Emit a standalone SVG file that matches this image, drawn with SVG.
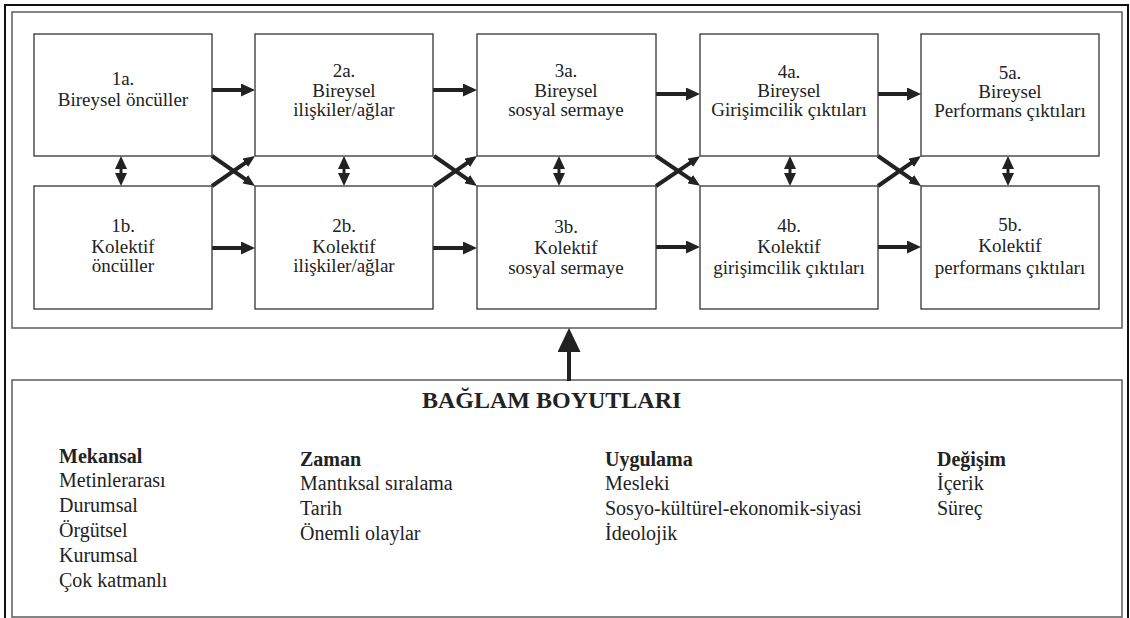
<svg xmlns="http://www.w3.org/2000/svg" width="1130" height="618" viewBox="0 0 1130 618">
  <style>
    .frame { fill: none; stroke: #111; stroke-width: 2; }
    .panel { fill: none; stroke: #666; stroke-width: 1.6; }
    .box { fill: #fff; stroke: #333; stroke-width: 1.3; }
    text { font-family: 'Liberation Serif', 'DejaVu Serif', serif; fill: #222; }
    .lbl { font-size: 19px; text-anchor: middle; }
    .ctx { font-size: 20px; }
    .hd { font-weight: bold; }
    .title { font-size: 24px; font-weight: bold; }
    .flow { stroke: #222; stroke-width: 4; fill: none; }
    .cross { stroke: #222; stroke-width: 4; fill: none; }
    .link { stroke: #222; stroke-width: 3; fill: none; }
    .up { stroke: #222; stroke-width: 4; fill: none; }
  </style>
  <defs>
    <marker id="ah" viewBox="0 0 14 13" markerWidth="14" markerHeight="13" refX="1" refY="6.5" orient="auto" markerUnits="userSpaceOnUse">
      <path d="M0,0 L14,6.5 L0,13 z" fill="#222"/>
    </marker>
    <marker id="ahs" viewBox="0 0 12 10" markerWidth="12" markerHeight="10" refX="1" refY="5" orient="auto" markerUnits="userSpaceOnUse">
      <path d="M0,0 L12,5 L0,10 z" fill="#222"/>
    </marker>
    <marker id="dh" viewBox="0 0 13 12" markerWidth="13" markerHeight="12" refX="1" refY="6" orient="auto-start-reverse" markerUnits="userSpaceOnUse">
      <path d="M0,0 L13,6 L0,12 z" fill="#222"/>
    </marker>
    <marker id="big" viewBox="0 0 24 23" markerWidth="24" markerHeight="23" refX="1" refY="11.5" orient="auto" markerUnits="userSpaceOnUse">
      <path d="M0,0 L24,11.5 L0,23 z" fill="#222"/>
    </marker>
  </defs>

  <rect width="1130" height="618" fill="#fff"/>

  <!-- outer frame and the two panels -->
  <rect class="frame" x="5" y="5" width="1123" height="620"/>
  <rect class="panel" x="12" y="12" width="1110" height="316"/>
  <rect class="panel" x="12" y="380" width="1110" height="237"/>

  <!-- connectors -->
  <g id="connectors">
    <!-- horizontal flows, individual row -->
    <line class="flow" x1="211" y1="90" x2="242" y2="90" marker-end="url(#ah)"/>
    <line class="flow" x1="433" y1="90" x2="464" y2="90" marker-end="url(#ah)"/>
    <line class="flow" x1="655" y1="94" x2="687" y2="94" marker-end="url(#ah)"/>
    <line class="flow" x1="877" y1="94" x2="908" y2="94" marker-end="url(#ah)"/>
    <!-- horizontal flows, collective row -->
    <line class="flow" x1="211" y1="248" x2="242" y2="248" marker-end="url(#ah)"/>
    <line class="flow" x1="433" y1="248" x2="464" y2="248" marker-end="url(#ah)"/>
    <line class="flow" x1="655" y1="247" x2="687" y2="247" marker-end="url(#ah)"/>
    <line class="flow" x1="877" y1="247" x2="908" y2="247" marker-end="url(#ah)"/>
    <!-- diagonal crossings between rows -->
    <line class="cross" x1="212" y1="156" x2="246" y2="179.7" marker-end="url(#ahs)"/>
    <line class="cross" x1="212" y1="186" x2="246" y2="162.3" marker-end="url(#ahs)"/>
    <line class="cross" x1="434" y1="156" x2="468" y2="179.7" marker-end="url(#ahs)"/>
    <line class="cross" x1="434" y1="186" x2="468" y2="162.3" marker-end="url(#ahs)"/>
    <line class="cross" x1="656" y1="156" x2="691" y2="179.7" marker-end="url(#ahs)"/>
    <line class="cross" x1="656" y1="186" x2="691" y2="162.3" marker-end="url(#ahs)"/>
    <line class="cross" x1="878" y1="156" x2="912" y2="179.7" marker-end="url(#ahs)"/>
    <line class="cross" x1="878" y1="186" x2="912" y2="162.3" marker-end="url(#ahs)"/>
    <!-- two-way links between individual and collective -->
    <line class="link" x1="121" y1="168" x2="121" y2="174" marker-start="url(#dh)" marker-end="url(#dh)"/>
    <line class="link" x1="344" y1="168" x2="344" y2="174" marker-start="url(#dh)" marker-end="url(#dh)"/>
    <line class="link" x1="559" y1="168" x2="559" y2="174" marker-start="url(#dh)" marker-end="url(#dh)"/>
    <line class="link" x1="790" y1="168" x2="790" y2="174" marker-start="url(#dh)" marker-end="url(#dh)"/>
    <line class="link" x1="1008" y1="168" x2="1008" y2="174" marker-start="url(#dh)" marker-end="url(#dh)"/>
    <!-- context feeding the model -->
    <line class="up" x1="569" y1="381" x2="569" y2="351" marker-end="url(#big)"/>
  </g>

  <!-- individual row -->
  <g id="n1a">
    <rect class="box" x="34" y="34" width="178" height="122"/>
    <text class="lbl" x="123" y="85">1a.</text>
    <text class="lbl" x="123" y="106">Bireysel öncüller</text>
  </g>
  <g id="n2a">
    <rect class="box" x="255" y="34" width="178" height="122"/>
    <text class="lbl" x="344" y="77">2a.</text>
    <text class="lbl" x="344" y="97">Bireysel</text>
    <text class="lbl" x="344" y="116">ilişkiler/ağlar</text>
  </g>
  <g id="n3a">
    <rect class="box" x="477" y="34" width="179" height="122"/>
    <text class="lbl" x="566" y="77">3a.</text>
    <text class="lbl" x="566" y="97">Bireysel</text>
    <text class="lbl" x="566" y="116">sosyal sermaye</text>
  </g>
  <g id="n4a">
    <rect class="box" x="700" y="34" width="178" height="122"/>
    <text class="lbl" x="789" y="78">4a.</text>
    <text class="lbl" x="789" y="97">Bireysel</text>
    <text class="lbl" x="789" y="116">Girişimcilik çıktıları</text>
  </g>
  <g id="n5a">
    <rect class="box" x="921" y="34" width="178" height="122"/>
    <text class="lbl" x="1010" y="79">5a.</text>
    <text class="lbl" x="1010" y="98">Bireysel</text>
    <text class="lbl" x="1010" y="117">Performans çıktıları</text>
  </g>

  <!-- collective row -->
  <g id="n1b">
    <rect class="box" x="34" y="186" width="178" height="123"/>
    <text class="lbl" x="123" y="232">1b.</text>
    <text class="lbl" x="123" y="253">Kolektif</text>
    <text class="lbl" x="123" y="272">öncüller</text>
  </g>
  <g id="n2b">
    <rect class="box" x="255" y="186" width="178" height="123"/>
    <text class="lbl" x="344" y="232">2b.</text>
    <text class="lbl" x="344" y="253">Kolektif</text>
    <text class="lbl" x="344" y="272">ilişkiler/ağlar</text>
  </g>
  <g id="n3b">
    <rect class="box" x="477" y="186" width="179" height="123"/>
    <text class="lbl" x="566" y="233">3b.</text>
    <text class="lbl" x="566" y="254">Kolektif</text>
    <text class="lbl" x="566" y="274">sosyal sermaye</text>
  </g>
  <g id="n4b">
    <rect class="box" x="700" y="186" width="178" height="123"/>
    <text class="lbl" x="789" y="232">4b.</text>
    <text class="lbl" x="789" y="253">Kolektif</text>
    <text class="lbl" x="789" y="274">girişimcilik çıktıları</text>
  </g>
  <g id="n5b">
    <rect class="box" x="921" y="186" width="178" height="123"/>
    <text class="lbl" x="1010" y="231">5b.</text>
    <text class="lbl" x="1010" y="252">Kolektif</text>
    <text class="lbl" x="1010" y="274">performans çıktıları</text>
  </g>

  <!-- context dimensions -->
  <g id="context">
    <text class="title" x="422" y="408">BAĞLAM BOYUTLARI</text>

    <text class="ctx hd" x="59" y="463">Mekansal</text>
    <text class="ctx" x="59" y="487">Metinlerarası</text>
    <text class="ctx" x="59" y="512">Durumsal</text>
    <text class="ctx" x="59" y="537">Örgütsel</text>
    <text class="ctx" x="59" y="562">Kurumsal</text>
    <text class="ctx" x="59" y="587">Çok katmanlı</text>

    <text class="ctx hd" x="300" y="466">Zaman</text>
    <text class="ctx" x="300" y="490">Mantıksal sıralama</text>
    <text class="ctx" x="300" y="515">Tarih</text>
    <text class="ctx" x="300" y="540">Önemli olaylar</text>

    <text class="ctx hd" x="605" y="466">Uygulama</text>
    <text class="ctx" x="605" y="490">Mesleki</text>
    <text class="ctx" x="605" y="515">Sosyo-kültürel-ekonomik-siyasi</text>
    <text class="ctx" x="605" y="540">İdeolojik</text>

    <text class="ctx hd" x="937" y="466">Değişim</text>
    <text class="ctx" x="937" y="490">İçerik</text>
    <text class="ctx" x="937" y="515">Süreç</text>
  </g>
</svg>
